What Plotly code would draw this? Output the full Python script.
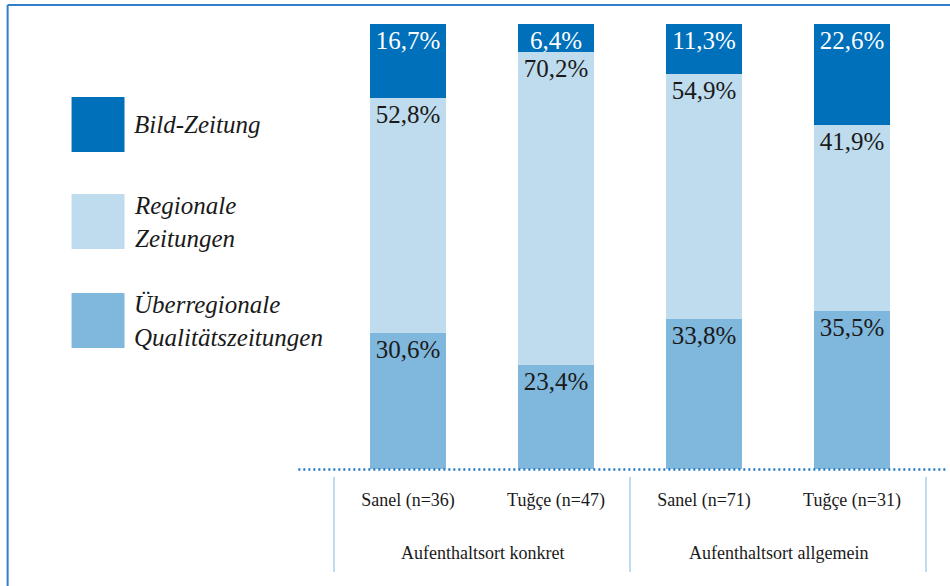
import plotly.graph_objects as go

# ---- data ----
categories = ["Sanel (n=36)", "Tuğçe (n=47)", "Sanel (n=71)", "Tuğçe (n=31)"]
groups = ["Aufenthaltsort konkret", "Aufenthaltsort allgemein"]
series_names = ["Überregionale<br>Qualitätszeitungen", "Regionale<br>Zeitungen", "Bild-Zeitung"]
ueberregional = [30.6, 23.4, 33.8, 35.5]
regional = [52.8, 70.2, 54.9, 41.9]
bild = [16.7, 6.4, 11.3, 22.6]

colors = ["#80B7DC", "#BEDCEE", "#0070BA"]
text_colors = ["#1a1a1a", "#1a1a1a", "#ffffff"]

W, H = 950, 586
L, R, T, B = 332.7, 22.7, 24, 117
PW = W - L - R
PH = H - T - B

def px(x):
    return (x - L) / PW

def py(y):
    return (H - B - y) / PH

FONT = "Liberation Serif"

fig = go.Figure()
for name, vals, col, tcol in zip(series_names, [ueberregional, regional, bild], colors, text_colors):
    fig.add_trace(go.Bar(
        x=categories, y=vals, name=name,
        marker=dict(color=col, line=dict(width=0)),
        text=[f"{v:.1f}%".replace(".", ",") for v in vals],
        textposition="inside", insidetextanchor="end",
        constraintext="none",
        textfont=dict(family=FONT, size=25, color=tcol),
        textangle=0,
    ))

fig.update_layout(
    barmode="stack", bargap=0.489,
    width=W, height=H,
    margin=dict(l=L, r=R, t=T, b=B),
    paper_bgcolor="white", plot_bgcolor="white",
    showlegend=False,
    xaxis=dict(showgrid=False, zeroline=False, showline=False,
               tickfont=dict(family=FONT, size=18, color="#1a1a1a"),
               ticklabelstandoff=18),
    yaxis=dict(range=[0, 100], visible=False, showgrid=False),
)

shapes = []
annotations = []
# frame lines (top and left)
shapes.append(dict(type="line", xref="paper", yref="paper", x0=px(7), x1=px(W + 5), y0=py(5), y1=py(5),
                   line=dict(color="#2F80C8", width=2)))
shapes.append(dict(type="line", xref="paper", yref="paper", x0=px(7), x1=px(7), y0=py(5), y1=py(H + 5),
                   line=dict(color="#2F80C8", width=2)))
# dotted baseline
shapes.append(dict(type="line", xref="paper", yref="paper", x0=px(298), x1=px(946), y0=py(469.5), y1=py(469.5),
                   line=dict(color="#1F78C8", width=2.5, dash="2px,3px")))
# dividers
for xv in [-0.5, 1.5, 3.5]:
    shapes.append(dict(type="line", xref="x", yref="paper", x0=xv, x1=xv, y0=py(477), y1=py(572),
                       line=dict(color="#BEDCEE", width=2)))
# group labels
for gx, g in zip([0.5, 2.5], groups):
    annotations.append(dict(x=gx, xref="x", y=py(553), yref="paper", text=g, showarrow=False,
                            xanchor="center", yanchor="middle",
                            font=dict(family=FONT, size=18, color="#1a1a1a")))
# legend
leg_boxes = [(97, 152), (194, 249), (293, 348)]
for (y0, y1), name, col in zip(leg_boxes, series_names[::-1], colors[::-1]):
    shapes.append(dict(type="rect", xref="paper", yref="paper", x0=px(71), x1=px(124), y0=py(y1), y1=py(y0),
                       fillcolor=col, line=dict(width=0)))
    annotations.append(dict(x=px(131), xref="paper", y=py((y0 + y1) / 2), yref="paper",
                            text=f"<i>{name}</i>", showarrow=False, xanchor="left", yanchor="middle",
                            align="left", font=dict(family=FONT, size=25, color="#1a1a1a")))

fig.update_layout(shapes=shapes, annotations=annotations)
fig.write_html("out.html", config={"displayModeBar": False},
               post_script="document.body.style.margin='0';")
